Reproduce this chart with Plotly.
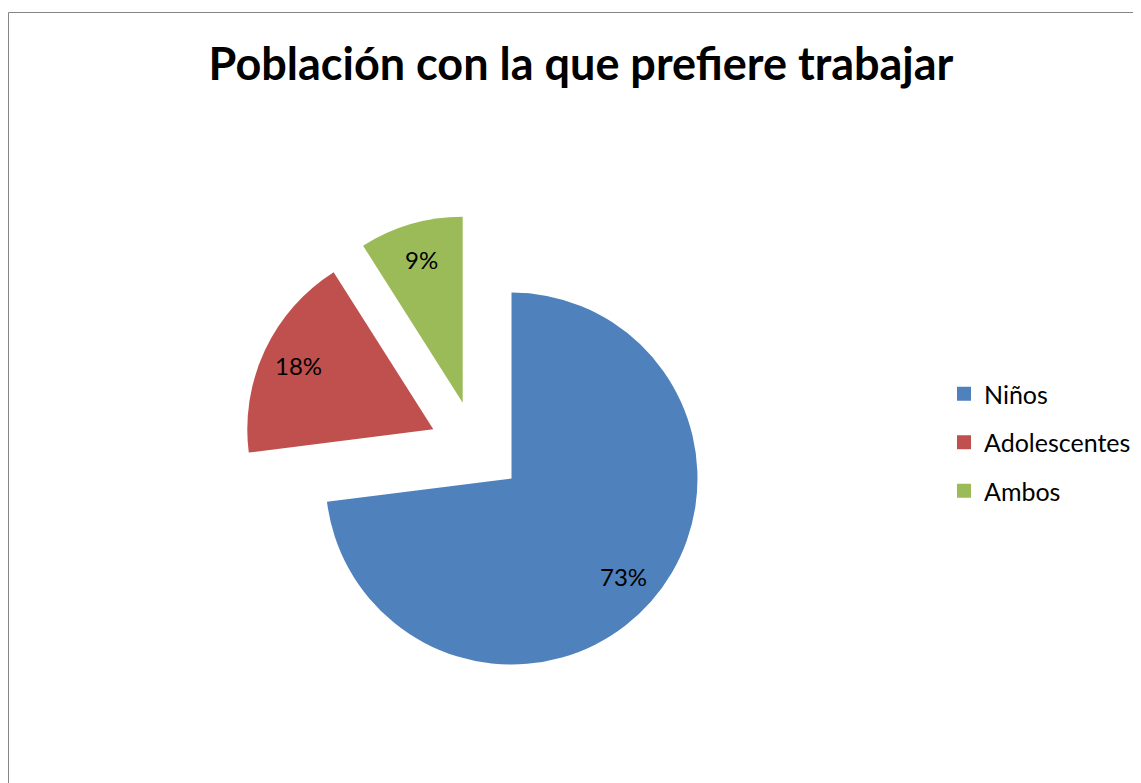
import math
import plotly.graph_objects as go

# ---- data ----
labels = ["Niños", "Adolescentes", "Ambos"]
values = [73, 18, 9]
colors = ["#4F81BD", "#C0504D", "#9BBB59"]
title_text = "Población con la que prefiere trabajar"

# ---- layout constants (pixels, page coordinates; page body has 8px margin) ----
W, H = 1141, 783
OFF = 8
R = 186
centers = [(511.5, 478.5), (433.3, 429.3), (462.7, 402.7)]  # slice apex positions (exploded)
FONT = "Lato"


def px_x(x):
    return (x - OFF) / W


def px_y(y):
    return 1 - (y - OFF) / H


fig = go.Figure()
total = sum(values)
cum = 0.0
annotations = []
for i, (lab, v) in enumerate(zip(labels, values)):
    cx, cy = centers[i]
    mcols = [colors[j] if j == i else "rgba(0,0,0,0)" for j in range(len(values))]
    fig.add_trace(go.Pie(
        labels=labels, values=values, sort=False, direction="clockwise",
        rotation=0, marker=dict(colors=mcols, line=dict(width=0)),
        textinfo="none", hoverinfo="skip", showlegend=False,
        domain=dict(x=[px_x(cx - R), px_x(cx + R)], y=[px_y(cy + R), px_y(cy - R)]),
    ))
    mid = (cum + v / 2) / total
    th = 2 * math.pi * mid
    tx = cx + 0.8 * R * math.sin(th)
    ty = cy - 0.8 * R * math.cos(th)
    annotations.append(dict(x=px_x(tx), y=px_y(ty), xref="paper", yref="paper",
                            text=f"{round(100 * v / total)}%", showarrow=False,
                            font=dict(family=FONT, size=24, color="black"),
                            xanchor="center", yanchor="middle"))
    cum += v

# legend entries
for lab, c in zip(labels, colors):
    fig.add_trace(go.Scatter(x=[None], y=[None], mode="markers", name=lab, legendgroup=lab,
                             marker=dict(symbol="square", size=14, color=c), showlegend=True,
                             hoverinfo="skip"))

fig.update_layout(
    width=W, height=H,
    margin=dict(l=0, r=0, t=0, b=0),
    paper_bgcolor="white", plot_bgcolor="white",
    xaxis=dict(visible=False), yaxis=dict(visible=False),
    title=dict(text=f"<b>{title_text}</b>", x=px_x(581), xanchor="center",
               y=px_y(64), yanchor="middle", yref="container",
               font=dict(family=FONT, size=45, color="black")),
    legend=dict(x=px_x(944), xanchor="left", y=px_y(371), yanchor="top",
                font=dict(family=FONT, size=25, color="black"),
                tracegroupgap=13, bgcolor="rgba(0,0,0,0)", itemclick=False),
    annotations=annotations,
    shapes=[dict(type="rect", xref="paper", yref="paper",
                 x0=px_x(8.5), x1=1.2, y0=-0.2, y1=px_y(12.5),
                 line=dict(color="#868686", width=1), fillcolor="rgba(0,0,0,0)")],
)

fig.write_html("out.html")
